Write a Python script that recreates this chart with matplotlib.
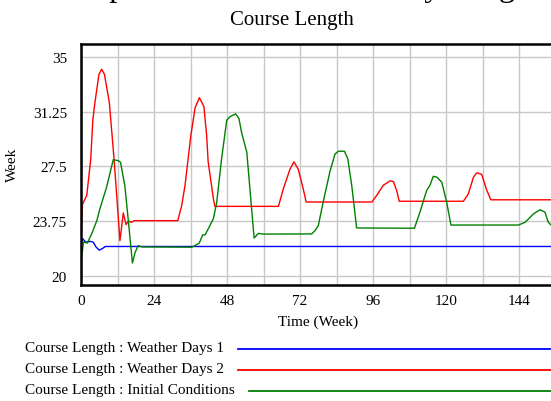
import matplotlib.pyplot as plt
from matplotlib.lines import Line2D

plt.rcParams['font.family'] = ['Liberation Serif', 'DejaVu Serif']

# series: time in weeks, course length in weeks
weeks_days1 = [0, 0.5, 1.5, 3, 4, 5, 6, 7, 8, 156]
length_days1 = [22.15, 22.55, 22.3, 22.35, 22.3, 21.95, 21.75, 21.85, 22.0, 22.0]

weeks_days2 = [0, 0.5, 1.9, 3.2, 3.9, 4.6, 5.9, 6.8, 7.7, 9.3, 10.9, 12.8, 13.9,
               14.8, 15.6, 16.5, 17.5, 31.8, 33.1, 34.2, 36.1, 37.5, 38.9, 40.4,
               41.3, 41.8, 43.5, 44.0, 64.9, 66.5, 68.7, 70.0, 71.4, 73.1, 74.0,
               95.6, 97.2, 99.4, 101.6, 102.7, 103.8, 104.6, 125.7, 127.3, 129.0,
               130.1, 131.7, 133.3, 134.7, 156]
length_days2 = [22.3, 24.9, 25.5, 28.0, 30.7, 31.9, 33.8, 34.15, 33.8, 31.9, 27.9,
                22.4, 24.3, 23.5, 23.75, 23.65, 23.77, 23.77, 24.8, 26.2, 29.6,
                31.5, 32.2, 31.6, 29.6, 27.8, 25.3, 24.75, 24.75, 25.95, 27.3,
                27.8, 27.3, 25.9, 25.05, 25.05, 25.5, 26.2, 26.5, 26.45, 25.8,
                25.1, 25.1, 25.6, 26.75, 27.05, 26.95, 25.9, 25.2, 25.2]

weeks_init = [0, 0.8, 2.1, 3.5, 5.2, 6.2, 8.4, 10.6, 12.3, 13.0, 14.4, 15.5, 16.9,
              17.8, 18.8, 20.0, 36.4, 37.8, 38.9, 40.0, 40.8, 41.8, 43.5, 44.6,
              46.2, 47.9, 49.0, 50.8, 51.9, 52.8, 54.5, 56.9, 58.3, 59.9, 75.8,
              76.9, 78.0, 79.7, 81.9, 83.5, 84.6, 86.6, 87.7, 89.0, 90.6, 109.6,
              111.4, 113.6, 114.7, 115.8, 117.0, 118.6, 120.2, 121.6, 143.8,
              146.0, 148.7, 150.9, 152.5, 153.6, 154.5, 156]
length_init = [20.9, 22.3, 22.24, 22.86, 23.77, 24.57, 26.06, 27.95, 27.88, 27.77,
               26.17, 23.89, 20.87, 21.6, 22.06, 21.97, 21.95, 22.1, 22.24, 22.8,
               22.8, 23.2, 23.9, 25.0, 28.0, 30.66, 30.9, 31.09, 30.78, 29.8,
               28.46, 22.58, 22.9, 22.85, 22.86, 23.08, 23.43, 25.14, 27.2, 28.34,
               28.53, 28.53, 28.0, 26.17, 23.27, 23.25, 24.35, 25.83, 26.2, 26.81,
               26.75, 26.4, 25.03, 23.47, 23.47, 23.66, 24.23, 24.52, 24.35,
               23.66, 23.47, 23.47]

run_labels = ['Course Length : Weather Days 1',
              'Course Length : Weather Days 2',
              'Course Length : Initial Conditions']
run_colors = ['#0000ff', '#ff0000', '#008000']
y_ticks = [20, 23.75, 27.5, 31.25, 35]
x_ticks = [0, 24, 48, 72, 96, 120, 144]

W, H = 551, 402
fig = plt.figure(figsize=(W / 100, H / 100), dpi=100)
fig.patch.set_facecolor('white')

# plot area runs a bit past the right edge, like the cropped original
ax = fig.add_axes([81 / W, 1 - 285.7 / H, (555.6 - 81) / W, (285.7 - 45) / H])

series = [(weeks_days1, length_days1), (weeks_days2, length_days2),
          (weeks_init, length_init)]
for (t, v), c in zip(series, run_colors):
    ax.plot(t, v, color=c, lw=1.0)

ax.set_xlim(0, 156)
ax.set_ylim(19.38, 35.88)
ax.set_xticks(x_ticks)
ax.set_xticks(range(12, 157, 24), minor=True)
ax.set_yticks(y_ticks)
ax.set_yticklabels(['20', '23.75', '27.5', '31.25', '35'])
ax.grid(True, which='both', color='#c8c8c8', lw=1.0)
ax.set_axisbelow(True)
ax.tick_params(which='both', length=0, labelsize=11)
ax.tick_params(axis='x', pad=7)
ax.tick_params(axis='y', pad=10)
for side in ['left', 'top', 'bottom']:
    ax.spines[side].set_linewidth(1.8)
ax.spines['right'].set_visible(False)

# header cut off at the top of the picture, only descenders remain
fig.text(293 / W, 1 + 4 / H, 'Comparison of Weather Delay Length',
         ha='center', va='baseline', fontsize=23.4)
fig.text(292 / W, 1 - 20 / H, 'Course Length', ha='center', va='center',
         fontsize=15)
fig.text(12 / W, 1 - 165 / H, 'Week', rotation=90, ha='center', va='center',
         fontsize=11)
fig.text(318 / W, 1 - 322 / H, 'Time (Week)', ha='center', va='center',
         fontsize=11)

# legend: label on the left, sample line drawn after it to the edge
fig.canvas.draw()
renderer = fig.canvas.get_renderer()
row_y = [350, 371, 392]
for lab, c, yy in zip(run_labels, run_colors, row_y):
    txt = fig.text(25 / W, 1 - (yy - 1) / H, lab, ha='left', va='center',
                   fontsize=11)
    ext = txt.get_window_extent(renderer)
    x0 = (ext.x1 + 14) / W
    fig.add_artist(Line2D([x0, 1.0], [1 - yy / H, 1 - yy / H], color=c,
                          lw=1.3, transform=fig.transFigure))

fig.savefig('out.png', dpi=100)
